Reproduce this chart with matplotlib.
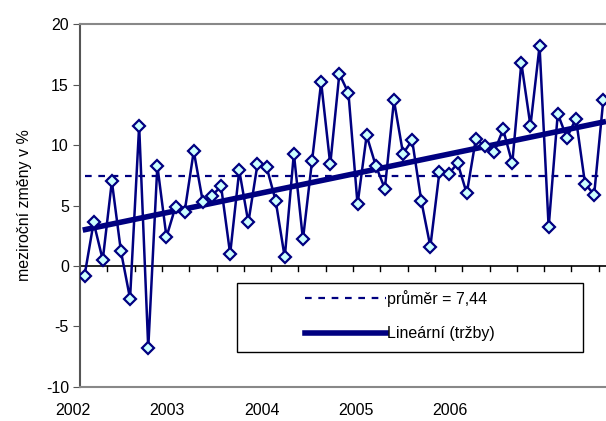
import numpy as np
import matplotlib.pyplot as plt
from matplotlib.patches import Rectangle
from matplotlib.lines import Line2D

plt.rcParams['font.family'] = ['Liberation Sans', 'DejaVu Sans']
plt.rcParams['axes.unicode_minus'] = False

# meziroční změny tržeb v % (měsíčně od 2002)
trzby = [-0.8, 3.6, 0.5, 7.0, 1.2, -2.7, 11.6, -6.8, 8.3, 2.4,
         4.9, 4.5, 9.5, 5.3, 5.8, 6.6, 1.0, 7.9, 3.6, 8.4,
         8.2, 5.4, 0.7, 9.3, 2.2, 8.7, 15.2, 8.4, 15.9, 14.3,
         5.1, 10.8, 8.3, 6.4, 13.7, 9.3, 10.4, 5.4, 1.6, 7.8,
         7.6, 8.5, 6.0, 10.5, 9.9, 9.4, 11.3, 8.5, 16.8, 11.6,
         18.2, 3.2, 12.6, 10.6, 12.2, 6.8, 5.9, 13.7]
prumer = 7.44
roky = ['2002', '2003', '2004', '2005', '2006']
roky_pos = [-0.013, 0.165, 0.346, 0.525, 0.703]  # v jednotkách osy

navy = '#000080'
fs = 11.5

fig = plt.figure(figsize=(6.06, 4.21), dpi=100)
ax = fig.add_axes([80 / 606, (421 - 386.7) / 421, 526 / 606, (386.7 - 24.3) / 421])

n = len(trzby)
x = np.arange(n) + 0.5
xmax = 526 / 9.1

# průměr
ax.plot([x[0], x[-1]], [prumer, prumer], color=navy, lw=1.6, ls=(0, (3, 3)), zorder=2)

# lineární trend
k, q = np.polyfit(x, trzby, 1)
xt = np.array([0.3, xmax])
ax.plot(xt, k * xt + q, color=navy, lw=4, solid_capstyle='butt', zorder=3)

# data
ax.plot(x, trzby, color=navy, lw=1.8, marker='D', ms=6.5, mfc='#ccffff',
        mec=navy, mew=1.6, zorder=4)

ax.set_xlim(0, xmax)
ax.set_ylim(-10, 20)
ax.set_yticks(range(-10, 21, 5))
ax.tick_params(axis='y', direction='out', length=5, color='#555555', labelsize=fs, pad=3)
ax.set_xticks([])

# osa x na nule s čárkami
ax.axhline(0, color='black', lw=1.2, zorder=1)
for t in np.arange(3, xmax, 3):
    ax.plot([t, t], [0, -0.45], color='black', lw=1, clip_on=False, zorder=1)

for s in ['top', 'bottom']:
    ax.spines[s].set_color('#888888')
    ax.spines[s].set_linewidth(1.5)
ax.spines['right'].set_visible(False)
ax.spines['left'].set_color('#555555')
ax.spines['left'].set_linewidth(1.5)

for lab, p in zip(roky, roky_pos):
    ax.text(p, -0.065, lab, transform=ax.transAxes, ha='center', va='center', fontsize=fs)

ax.set_ylabel('meziroční změny v %', fontsize=fs, labelpad=10)

# legenda
fig.patches.append(Rectangle((236.7 / 606, (421 - 351.7) / 421), (583.3 - 236.7) / 606,
                             69 / 421, transform=fig.transFigure, fill=True,
                             facecolor='white', edgecolor='black', lw=1, zorder=5))
h = [Line2D([], [], color=navy, lw=1.6, ls=(0, (3, 3))),
     Line2D([], [], color=navy, lw=4)]
leg = fig.legend(h, ['průměr = %s' % str(prumer).replace('.', ','), 'Lineární (tržby)'],
                 loc='upper left', bbox_to_anchor=(305 / 606, (421 - 290) / 421),
                 frameon=False, fontsize=fs, handlelength=5.1, handletextpad=0.05,
                 labelspacing=1.2, borderaxespad=0, borderpad=0)
leg.set_zorder(6)

fig.savefig('out.png', dpi=100)
